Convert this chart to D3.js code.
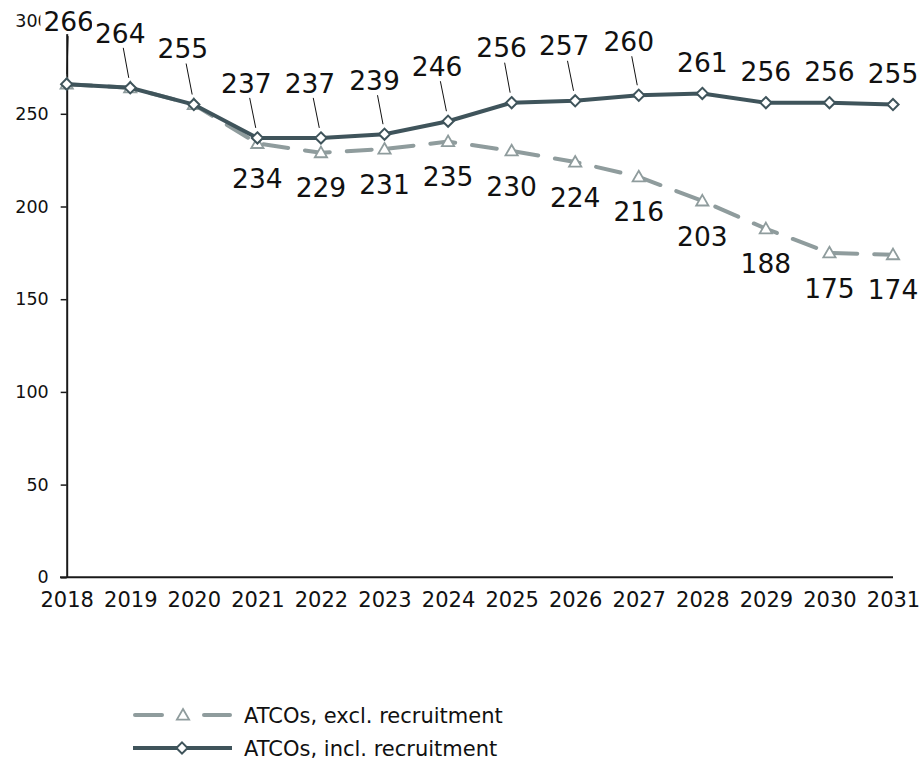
<!DOCTYPE html>
<html>
<head>
<meta charset="utf-8">
<script src="https://cdn.jsdelivr.net/npm/d3@7"></script>
<style>
  html, body { margin: 0; padding: 0; background: #fff; }
  svg { display: block; font-family: "DejaVu Sans", Verdana, sans-serif; }
</style>
</head>
<body>
<svg id="chart" width="922" height="762"></svg>
<script>
// ATCO headcount projections, 2018-2031
const years = [2018, 2019, 2020, 2021, 2022, 2023, 2024, 2025, 2026, 2027, 2028, 2029, 2030, 2031];
const inclRecruitment = [266, 264, 255, 237, 237, 239, 246, 256, 257, 260, 261, 256, 256, 255];
const exclRecruitment = [266, 264, 255, 234, 229, 231, 235, 230, 224, 216, 203, 188, 175, 174];
const yTicks = [0, 50, 100, 150, 200, 250, 300];
const seriesNames = ["ATCOs, excl. recruitment", "ATCOs, incl. recruitment"];

// label placement (dx, dy from each point) for the "incl." series
const inclLabelOffsets = [
  [2, -63], [-10, -55], [-11, -56], [-11, -55], [-11, -55], [-10, -54], [-11, -55],
  [-10, -55], [-11, -55], [-10, -54], [0, -31], [0, -31], [0, -31], [0, -31]
];
const exclLabelDy = 35;

const darkColor = "#3f545b";
const greyColor = "#8f9c9d";

const svg = d3.select("#chart");

const x = d3.scalePoint().domain(years).range([66.7, 893]);
const y = d3.scaleLinear().domain([0, 300]).range([577.3, 21.1]);

// y axis
const yAxis = svg.append("g")
  .attr("transform", "translate(66.7,0)")
  .call(d3.axisLeft(y).tickValues(yTicks).tickSize(6).tickPadding(12).tickSizeOuter(0));
yAxis.select(".domain").attr("stroke", "#1a1a1a").attr("stroke-width", 2);
yAxis.selectAll(".tick line").attr("stroke", "#1a1a1a").attr("stroke-width", 1.5);
yAxis.selectAll(".tick text").attr("font-size", 17.5).attr("fill", "#111")
  .attr("font-family", "DejaVu Sans, Verdana, sans-serif");

// x axis
const xAxis = svg.append("g")
  .attr("transform", `translate(0,${y(0)})`)
  .call(d3.axisBottom(x).tickSize(0).tickPadding(15).tickSizeOuter(0));
xAxis.select(".domain").attr("stroke", "#1a1a1a").attr("stroke-width", 2)
  .attr("d", `M60,0H893`);
xAxis.selectAll(".tick text").attr("font-size", 21).attr("fill", "#111")
  .attr("font-family", "DejaVu Sans, Verdana, sans-serif");

const line = d3.line().x((d, i) => x(years[i])).y(d => y(d));

// excl. recruitment: dashed grey line with hollow triangles
svg.append("path")
  .attr("d", line(exclRecruitment))
  .attr("fill", "none")
  .attr("stroke", greyColor)
  .attr("stroke-width", 4)
  .attr("stroke-linecap", "round")
  .attr("stroke-dasharray", "25,17");

const tri = d3.symbol().type(d3.symbolTriangle).size(65);
const dia = d3.symbol().type(d3.symbolDiamond2).size(80);

svg.append("g").selectAll("path")
  .data(exclRecruitment)
  .join("path")
  .attr("d", tri)
  .attr("transform", (d, i) => `translate(${x(years[i])},${y(d) + 1})`)
  .attr("fill", "#fff")
  .attr("stroke", greyColor)
  .attr("stroke-width", 1.8);

// incl. recruitment: solid dark line with hollow diamonds
svg.append("path")
  .attr("d", line(inclRecruitment))
  .attr("fill", "none")
  .attr("stroke", darkColor)
  .attr("stroke-width", 4);

svg.append("g").selectAll("path")
  .data(inclRecruitment)
  .join("path")
  .attr("d", dia)
  .attr("transform", (d, i) => `translate(${x(years[i])},${y(d)})`)
  .attr("fill", "#fff")
  .attr("stroke", darkColor)
  .attr("stroke-width", 2);

// data labels
const labelSize = 26.5;
const labelLayer = svg.append("g");

function addLabel(cx, cy, text) {
  const g = labelLayer.append("g");
  const t = g.append("text")
    .attr("x", cx)
    .attr("y", cy + labelSize * 0.729 / 2)
    .attr("text-anchor", "middle")
    .attr("font-size", labelSize)
    .attr("fill", "#111")
    .text(text);
  const w = t.node().getComputedTextLength();
  g.insert("rect", "text")
    .attr("x", cx - w / 2 - 3)
    .attr("y", cy - 13)
    .attr("width", w + 6)
    .attr("height", 26)
    .attr("fill", "#fff");
}

// excl. labels below points, only where the series diverge
exclRecruitment.forEach((v, i) => {
  if (v === inclRecruitment[i]) return;
  addLabel(x(years[i]), y(v) + exclLabelDy, v);
});

// incl. labels above points, with leader lines where pushed away
inclRecruitment.forEach((v, i) => {
  const mx = x(years[i]), my = y(v);
  const [dx, dy] = inclLabelOffsets[i];
  const lx = mx + dx, ly = my + dy;
  if (dy < -40) {
    labelLayer.append("line")
      .attr("x1", lx + (mx - lx) * 0.3).attr("y1", ly + 15)
      .attr("x2", mx - (mx - lx) * 0.15).attr("y2", my - 10)
      .attr("stroke", "#111").attr("stroke-width", 1);
  }
});
inclRecruitment.forEach((v, i) => {
  const [dx, dy] = inclLabelOffsets[i];
  addLabel(x(years[i]) + dx, y(v) + dy, v);
});

// legend
const legend = svg.append("g");
const legendRows = [
  { name: seriesNames[0], cy: 715, color: greyColor, dashed: true },
  { name: seriesNames[1], cy: 748, color: darkColor, dashed: false }
];
legendRows.forEach(r => {
  if (r.dashed) {
    legend.append("line").attr("x1", 135).attr("x2", 162).attr("y1", r.cy).attr("y2", r.cy)
      .attr("stroke", r.color).attr("stroke-width", 4).attr("stroke-linecap", "round");
    legend.append("line").attr("x1", 204).attr("x2", 230).attr("y1", r.cy).attr("y2", r.cy)
      .attr("stroke", r.color).attr("stroke-width", 4).attr("stroke-linecap", "round");
    legend.append("path").attr("d", tri).attr("transform", `translate(183,${r.cy + 1})`)
      .attr("fill", "#fff").attr("stroke", r.color).attr("stroke-width", 1.8);
  } else {
    legend.append("line").attr("x1", 133).attr("x2", 232).attr("y1", r.cy).attr("y2", r.cy)
      .attr("stroke", r.color).attr("stroke-width", 4);
    legend.append("path").attr("d", dia).attr("transform", `translate(182,${r.cy})`)
      .attr("fill", "#fff").attr("stroke", r.color).attr("stroke-width", 2);
  }
  legend.append("text")
    .attr("x", 244).attr("y", r.cy + 7.5)
    .attr("font-size", 21).attr("fill", "#111")
    .text(r.name);
});
</script>
</body>
</html>
